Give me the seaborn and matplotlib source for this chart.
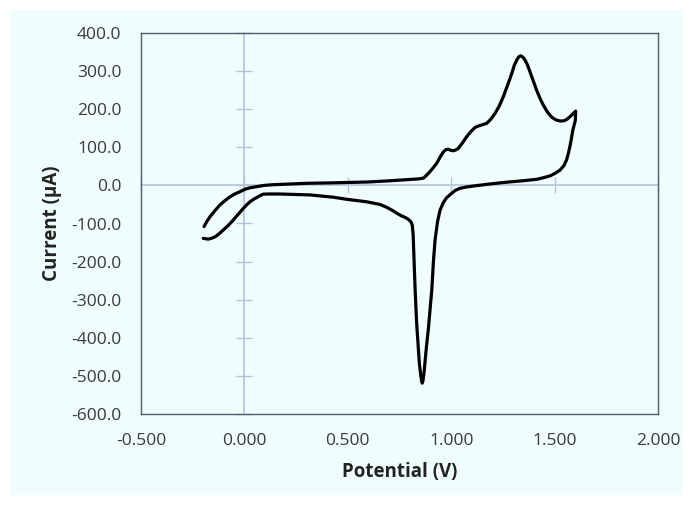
import matplotlib
matplotlib.use("Agg")
import matplotlib.pyplot as plt
import seaborn as sns
import pandas as pd
from matplotlib.patches import Rectangle

# ---- data ----
potential_forward = [-0.195, -0.182, -0.166, -0.142, -0.118, -0.094, -0.070, -0.045, -0.021, 0.003,
                     0.030, 0.059, 0.095, 0.138, 0.221, 0.301, 0.45, 0.60, 0.70, 0.78,
                     0.84, 0.865, 0.88, 0.897, 0.914, 0.930, 0.946, 0.962, 0.975, 0.986,
                     0.998, 1.010, 1.022, 1.034, 1.055, 1.075, 1.095, 1.115, 1.132, 1.147,
                     1.172, 1.192, 1.212, 1.232, 1.252, 1.272, 1.293, 1.305, 1.317, 1.326,
                     1.336, 1.346, 1.357, 1.369, 1.381, 1.397, 1.413, 1.429, 1.445, 1.466,
                     1.486, 1.506, 1.526, 1.545, 1.558, 1.572, 1.583, 1.602]
current_forward = [-108, -95, -82, -66, -51, -40, -30, -22, -16.5, -10,
                   -6, -3.4, 0, 1.8, 3.7, 5.5, 7, 9, 12, 15,
                   17, 19, 26, 36, 47, 58, 74, 88, 94, 95,
                   92, 91, 93, 97, 112, 128, 141, 152, 156, 158.5,
                   163, 174, 189, 208, 233, 262, 294, 315, 329, 337,
                   340, 337, 329, 316, 298, 274, 250, 229, 211, 192,
                   179, 172, 169, 169.5, 173, 179, 185, 195]
potential_reverse = [1.600, 1.594, 1.588, 1.581, 1.574, 1.566, 1.558, 1.545, 1.526, 1.500,
                     1.478, 1.445, 1.413, 1.349, 1.260, 1.187, 1.107, 1.070, 1.043, 1.020,
                     1.002, 0.978, 0.962, 0.946, 0.934, 0.922, 0.914, 0.906, 0.889, 0.880,
                     0.873, 0.868, 0.863, 0.860, 0.857, 0.852, 0.846, 0.840, 0.833, 0.826,
                     0.820, 0.816, 0.812, 0.806, 0.801, 0.790, 0.777, 0.760, 0.740, 0.720,
                     0.690, 0.656, 0.591, 0.495, 0.430, 0.317, 0.221, 0.172, 0.120, 0.091,
                     0.075, 0.059, 0.043, 0.027, 0.011, -0.005, -0.030, -0.054, -0.078, -0.102,
                     -0.122, -0.142, -0.160, -0.175, -0.199]
current_reverse = [170, 158, 145, 122, 102, 83, 67, 52, 40, 31,
                   25, 20, 16, 12.3, 8, 3.7, -1.6, -4.5, -7.6, -13,
                   -21, -32, -45, -65, -95, -143, -200, -275, -380, -425,
                   -467, -495, -514, -519, -514, -495, -467, -420, -362, -280,
                   -187, -130, -105, -96, -93, -88, -84, -80, -74, -67,
                   -58, -50, -43, -36.5, -31, -25, -23.5, -22.6, -22.5, -23,
                   -27, -32, -37, -43, -51, -60, -76, -91, -105, -117,
                   -127, -135, -139, -141, -139]

x_ticks = [-0.5, 0.0, 0.5, 1.0, 1.5, 2.0]
y_ticks = [-600, -500, -400, -300, -200, -100, 0, 100, 200, 300, 400]
x_tick_labels = ["-0.500", "0.000", "0.500", "1.000", "1.500", "2.000"]
y_tick_labels = ["-600.0", "-500.0", "-400.0", "-300.0", "-200.0", "-100.0",
                 "0.0", "100.0", "200.0", "300.0", "400.0"]

df = pd.DataFrame({
    "Potential": potential_forward + potential_reverse,
    "Current": current_forward + current_reverse,
})

sns.set_theme(style="white")
plt.rcParams["font.family"] = ["Open Sans", "DejaVu Sans"]

BG = "#effdfd"
AXIS_LIGHT = "#b3c3dc"
BORDER = "#545c6c"
TEXT = "#3a3a3a"

fig = plt.figure(figsize=(6.93, 5.05), dpi=100, facecolor="white")
fig.patches.append(Rectangle((10 / 693, 10 / 505), 1 - 20 / 693, 1 - 20 / 505,
                             transform=fig.transFigure, facecolor=BG, edgecolor="none",
                             zorder=-10))
ax = fig.add_axes([141 / 693, 1 - 414 / 505, (658 - 141) / 693, (414 - 33) / 505])
ax.set_facecolor(BG)

sns.lineplot(data=df, x="Potential", y="Current", sort=False, estimator=None,
             color="black", linewidth=2.3, ax=ax, zorder=5,
             solid_joinstyle="round", solid_capstyle="round")

ax.set_xlim(-0.5, 2.0)
ax.set_ylim(-600, 400)
ax.set_xticks(x_ticks)
ax.set_xticklabels(x_tick_labels)
ax.set_yticks(y_ticks)
ax.set_yticklabels(y_tick_labels)
ax.tick_params(axis="both", length=0, labelsize=12.5, labelcolor=TEXT, pad=14)
for s in ax.spines.values():
    s.set_visible(True)
    s.set_color(BORDER)
    s.set_linewidth(1.0)

ax.set_xlabel("Potential (V)", fontsize=13.5, fontweight="bold", color="#222222", labelpad=9)
ax.set_ylabel("Current (\u00b5A)", fontsize=13.5, fontweight="bold", color="#222222", labelpad=7)

# axis lines through the origin with crossing tick marks
secx = ax.secondary_xaxis(0, transform=ax.transData)
secx.set_xticks(x_ticks)
secx.tick_params(axis="x", direction="inout", length=12, width=1.0, color=AXIS_LIGHT,
                 labelbottom=False)
secx.spines["bottom"].set_color(AXIS_LIGHT)
secx.spines["bottom"].set_linewidth(1.2)

secy = ax.secondary_yaxis(0, transform=ax.transData)
secy.set_yticks(y_ticks)
secy.tick_params(axis="y", direction="inout", length=12, width=1.0, color=AXIS_LIGHT,
                 labelleft=False)
secy.spines["left"].set_color(AXIS_LIGHT)
secy.spines["left"].set_linewidth(1.2)

fig.savefig("out.png", dpi=100, facecolor="white")
